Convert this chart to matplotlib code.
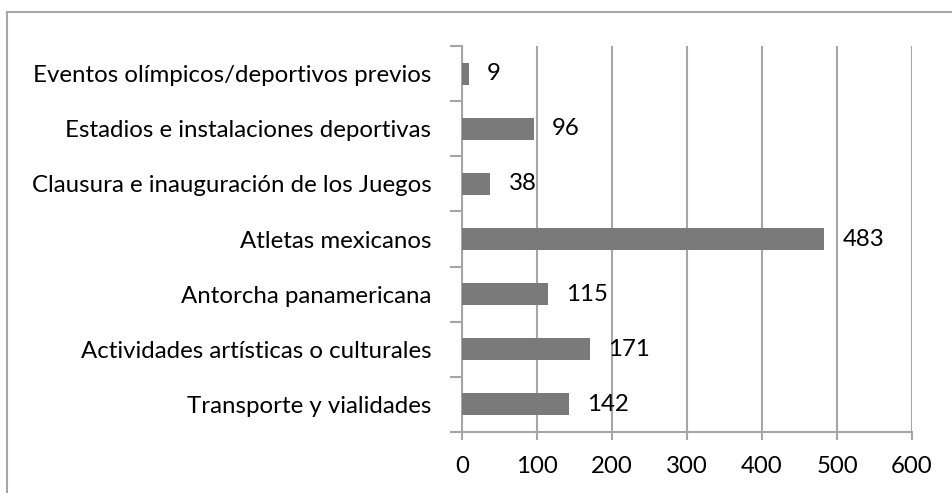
import matplotlib
matplotlib.use("Agg")
import matplotlib.pyplot as plt
from matplotlib.patches import Rectangle
import numpy as np

categorias = [
    "Transporte y vialidades",
    "Actividades artísticas o culturales",
    "Antorcha panamericana",
    "Atletas mexicanos",
    "Clausura e inauguración de los Juegos",
    "Estadios e instalaciones deportivas",
    "Eventos olímpicos/deportivos previos",
]
valores = [142, 171, 115, 483, 38, 96, 9]
x_ticks = [0, 100, 200, 300, 400, 500, 600]

plt.rcParams['font.family'] = ['Lato', 'DejaVu Sans']
gris = '#a6a6a6'
fs = 17.3

fig = plt.figure(figsize=(9.53, 4.93), dpi=100)
ax = fig.add_axes([462/953, 1 - 432/493, 450/953, 386/493])

# Rahmen um das Diagramm
fig.patches.append(Rectangle((7/953, -0.1), 1.2, 1 - 12/493 + 0.1,
                             transform=fig.transFigure, fill=False,
                             edgecolor=gris, linewidth=1.5))

pos = np.arange(len(categorias))
ax.barh(pos, valores, height=0.4, color='#7a7a7a', zorder=3)

for p, v in zip(pos, valores):
    ax.annotate(str(v), (v, p), xytext=(13, 0), textcoords='offset points',
                va='center', ha='left', fontsize=fs, color='black')

ax.set_xlim(0, 600)
ax.set_ylim(-0.5, len(categorias) - 0.5)
ax.set_xticks(x_ticks)
ax.set_xticklabels([str(t) for t in x_ticks], fontsize=fs)
ax.grid(axis='x', color=gris, linewidth=1.5, zorder=0)

ax.set_yticks(pos)
ax.set_yticklabels(categorias, fontsize=fs)
ax.set_yticks(np.arange(-0.5, len(categorias)), minor=True)
ax.tick_params(axis='y', which='major', length=0, pad=22)
ax.tick_params(axis='y', which='minor', length=9, width=1.5, color=gris)
ax.tick_params(axis='x', length=6, width=1.5, color=gris, pad=11)

for s in ['top', 'right']:
    ax.spines[s].set_visible(False)
for s in ['left', 'bottom']:
    ax.spines[s].set_color(gris)
    ax.spines[s].set_linewidth(1.5)

fig.savefig('out.png', dpi=100)
